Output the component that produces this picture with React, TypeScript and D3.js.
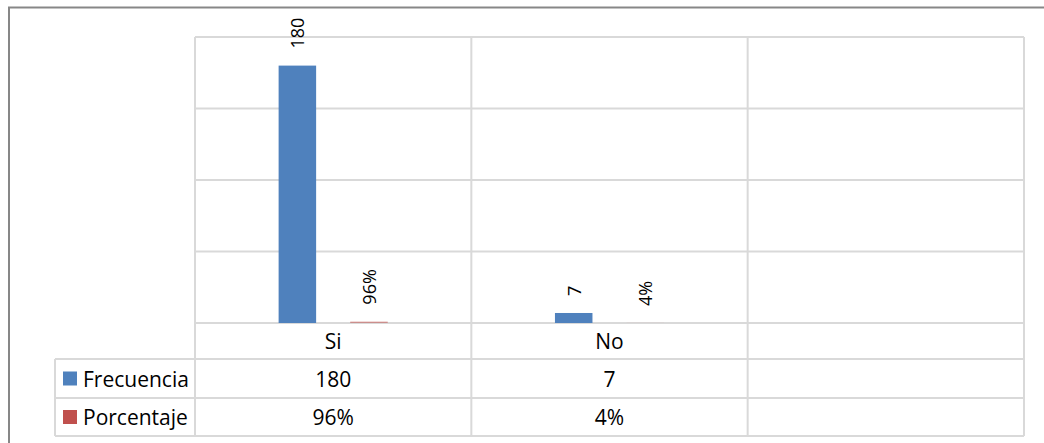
import React from "react";
import * as d3 from "d3";

// Survey answers and the two measures shown per answer
const categories = ["Si", "No", ""];
const seriesNames = ["Frecuencia", "Porcentaje"];
const frecuencia = [180, 7];
const porcentaje = [0.96, 0.04];
const yTicks = [0, 50, 100, 150, 200];

const colors: Record<string, string> = {
  Frecuencia: "#4F81BD",
  Porcentaje: "#C0504D",
};

const W = 1044;
const H = 443;
const FONT = "'Open Sans', 'Liberation Sans', sans-serif";

export default function App() {
  const plotLeft = 195;
  const plotRight = 1024;
  const plotTop = 37;
  const plotBottom = 323;
  const rowBottoms = [359, 398, 436];
  const legendLeft = 55;
  const tableBottom = rowBottoms[rowBottoms.length - 1];

  const x = d3.scaleBand<string>().domain(categories).range([plotLeft, plotRight]).padding(0);
  const xSub = d3
    .scaleBand<string>()
    .domain(seriesNames)
    .range([0, x.bandwidth()])
    .paddingInner(0.476)
    .paddingOuter(1.168);
  const y = d3.scaleLinear().domain([0, 200]).range([plotBottom, plotTop]);

  const pct = d3.format(".0%");
  const grid = "#D9D9D9";

  const bars: { cat: string; series: string; value: number; label: string }[] = [];
  categories.forEach((c, i) => {
    if (i < frecuencia.length) {
      bars.push({ cat: c, series: "Frecuencia", value: frecuencia[i], label: String(frecuencia[i]) });
      bars.push({ cat: c, series: "Porcentaje", value: porcentaje[i], label: pct(porcentaje[i]) });
    }
  });

  const boundaries = [...categories.map((c) => x(c) as number), plotRight];

  const tableRows = [
    { name: "Frecuencia", values: frecuencia.map(String) },
    { name: "Porcentaje", values: porcentaje.map((v) => pct(v)) },
  ];

  return (
    <svg
      width={W}
      height={H}
      style={{ position: "absolute", left: 0, top: 0, display: "block", background: "#fff" }}
      fontFamily={FONT}
    >
      {/* chart frame */}
      <rect x={9} y={7.5} width={W + 20} height={H + 20} fill="#fff" stroke="#878787" strokeWidth={2} />

      {/* horizontal gridlines */}
      {yTicks.map((t) => (
        <line key={t} x1={plotLeft} x2={plotRight} y1={y(t)} y2={y(t)} stroke={grid} strokeWidth={2} />
      ))}

      {/* data table row lines */}
      {rowBottoms.map((yy) => (
        <line key={yy} x1={legendLeft} x2={plotRight} y1={yy} y2={yy} stroke={grid} strokeWidth={2} />
      ))}

      {/* category boundaries, through plot and table */}
      {boundaries.map((bx, i) => (
        <line key={i} x1={bx} x2={bx} y1={plotTop} y2={tableBottom} stroke={grid} strokeWidth={2} />
      ))}
      <line x1={legendLeft} x2={legendLeft} y1={rowBottoms[0]} y2={tableBottom} stroke={grid} strokeWidth={2} />

      {/* bars */}
      {bars.map((b, i) => {
        const bx = (x(b.cat) as number) + (xSub(b.series) as number);
        const top = y(b.value);
        return (
          <rect
            key={i}
            x={bx}
            y={top}
            width={xSub.bandwidth()}
            height={plotBottom - top}
            fill={colors[b.series]}
            opacity={b.series === "Porcentaje" ? 0.55 : 1}
          />
        );
      })}

      {/* rotated data labels */}
      {bars.map((b, i) => {
        const cx = (x(b.cat) as number) + (xSub(b.series) as number) + xSub.bandwidth() / 2;
        const ty = y(b.value) - 17;
        return (
          <text
            key={i}
            transform={`translate(${cx},${ty}) rotate(-90)`}
            textAnchor="start"
            dominantBaseline="central"
            fontSize={18}
            fill="#000"
          >
            {b.label}
          </text>
        );
      })}

      {/* category labels */}
      {categories.map((c) => (
        <text
          key={c}
          x={(x(c) as number) + x.bandwidth() / 2}
          y={(plotBottom + rowBottoms[0]) / 2}
          textAnchor="middle"
          dominantBaseline="central"
          fontSize={21}
          fill="#000"
        >
          {c}
        </text>
      ))}

      {/* data table */}
      {tableRows.map((r, ri) => {
        const top = rowBottoms[ri];
        const bottom = rowBottoms[ri + 1];
        const cy = (top + bottom) / 2;
        return (
          <g key={r.name}>
            <rect x={63} y={cy - 7} width={14} height={14} fill={colors[r.name]} />
            <text x={83} y={cy} dominantBaseline="central" fontSize={21} fill="#000">
              {r.name}
            </text>
            {r.values.map((v, ci) => (
              <text
                key={ci}
                x={(x(categories[ci]) as number) + x.bandwidth() / 2}
                y={cy}
                textAnchor="middle"
                dominantBaseline="central"
                fontSize={21}
                fill="#000"
              >
                {v}
              </text>
            ))}
          </g>
        );
      })}
    </svg>
  );
}
